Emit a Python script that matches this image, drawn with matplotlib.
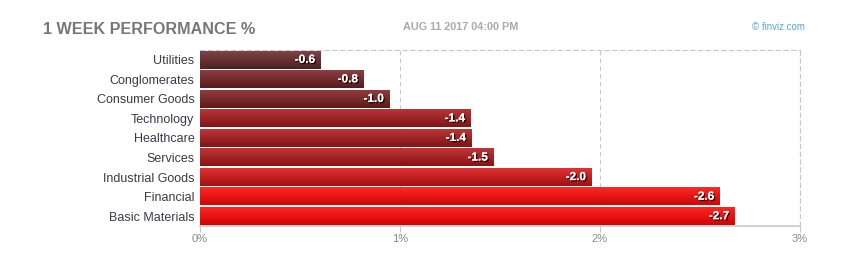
import numpy as np
import matplotlib
matplotlib.use('Agg')
from matplotlib import pyplot as plt
import matplotlib.patheffects as pe
from matplotlib.colors import to_rgb
from matplotlib import font_manager

## DATA
sectors = ['Utilities', 'Conglomerates', 'Consumer Goods', 'Technology', 'Healthcare',
           'Services', 'Industrial Goods', 'Financial', 'Basic Materials']
perf = [-0.6, -0.8, -1.0, -1.4, -1.4, -1.5, -2.0, -2.6, -2.7]
bar_len = [0.605, 0.82, 0.95, 1.355, 1.36, 1.47, 1.96, 2.6, 2.675]
bar_colors = ['#5e2426', '#6c1f21', '#721c1d', '#991719', '#9a1719',
              '#a01618', '#c01214', '#f20808', '#f60505']
xticks = [0, 1, 2, 3]
xticklabels = ['0%', '1%', '2%', '3%']

plt.rcParams['font.family'] = ['Liberation Sans', 'DejaVu Sans']

# narrow font for the title if we have it
names = set(f.name for f in font_manager.fontManager.ttflist)
if 'Liberation Sans Narrow' in names:
    title_font, title_size = 'Liberation Sans Narrow', 14
else:
    title_font, title_size = 'Liberation Sans', 11.6

fig = plt.figure(figsize=(8.5, 2.71), dpi=100)
ax = fig.add_axes([200/850, 1 - 226/271, 600/850, 176/271])

y = np.arange(len(sectors))
bars = ax.barh(y, bar_len, height=0.9, color=bar_colors, zorder=2)

# gradient overlay on each bar: lighter top, darker bottom
for b, c in zip(bars, bar_colors):
    x0, y0 = b.get_x(), b.get_y()
    w, h = b.get_width(), b.get_height()
    base = np.array(to_rgb(c))
    t = np.linspace(0, 1, 32)[:, None]
    top = np.clip(base + 0.12, 0, 1)
    bot = base * 0.85
    grad = top * (1 - t) + bot * t
    img = np.repeat(grad[:, None, :], 2, axis=1)
    ax.imshow(img, extent=(x0, x0 + w, y0 + h, y0), aspect='auto', zorder=3,
              interpolation='bilinear')

for yi, v, l in zip(y, perf, bar_len):
    ax.text(l - 0.03, yi, '%.1f' % v, ha='right', va='center', color='white',
            fontsize=8.5, fontweight='bold', zorder=4,
            path_effects=[pe.withSimplePatchShadow(offset=(1, -1), shadow_rgbFace='black', alpha=0.8),
                          pe.Normal()])

ax.set_xlim(0, 3)
ax.set_ylim(len(sectors) - 0.5, -0.5)
ax.set_yticks(y)
ax.set_yticklabels(sectors, fontsize=9, color='#3a3a4a')
ax.tick_params(axis='y', length=0, pad=4)
ax.set_xticks(xticks)
ax.set_xticklabels(xticklabels, fontsize=8, color='#888888')
ax.tick_params(axis='x', length=4, color='#c8c8c8', pad=2)

ax.grid(axis='x', linestyle=(0, (4, 3)), color='#c8c8c8', linewidth=0.8, zorder=0)
ax.set_axisbelow(True)
for s in ['top', 'right']:
    ax.spines[s].set_linestyle((0, (4, 3)))
    ax.spines[s].set_color('#c8c8c8')
    ax.spines[s].set_linewidth(0.8)
ax.spines['left'].set_visible(False)
ax.spines['bottom'].set_color('#c8c8c8')
ax.spines['bottom'].set_linewidth(1.2)

fig.text(43/850, 1 - 29/271, '1 WEEK PERFORMANCE %', fontsize=title_size, fontweight='bold',
         color='#777777', va='center', ha='left', family=[title_font, 'DejaVu Sans'])
fig.text(403/850, 1 - 27/271, 'AUG 11 2017 04:00 PM', fontsize=7.8, fontweight='bold',
         color='#aaaaaa', va='center', ha='left')
fig.text(805/850, 1 - 27/271, '\u00a9 finviz.com', fontsize=7, color='#5aa6d8',
         va='center', ha='right')

fig.savefig('out.png', dpi=100)
